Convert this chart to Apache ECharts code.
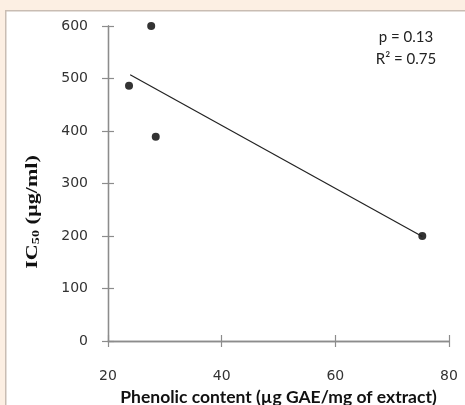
<!DOCTYPE html>
<html><head><meta charset="utf-8">
<script src="https://cdn.jsdelivr.net/npm/echarts@6/dist/echarts.min.js"></script>
<style>html,body{margin:0;padding:0;background:#fcefe3;}#c{width:465px;height:405px;}</style>
</head><body><div id="c"></div>
<script>
const phenolic = [23.7, 27.6, 28.4, 75.3];
const ic50 = [486, 600, 389, 200];
const trendX = [23.9, 75.3];
const trendY = [507, 199];
const xTicks = [20, 40, 60, 80];
const yTicks = [0, 100, 200, 300, 400, 500, 600];
const statLines = ['p = 0.13', 'R² = 0.75'];

const chart = echarts.init(document.getElementById('c'), null, {renderer: 'canvas'});
const axisLine = {show: true, onZero: false, lineStyle: {color: '#8c8c8c', width: 1.3}};
const tickStyle = {color: '#8c8c8c', width: 1.2};
chart.setOption({
  backgroundColor: '#fcefe3',
  animation: false,
  graphic: [
    {type: 'rect', left: 5, top: 10, z: -10, shape: {x: 0, y: 0, width: 470, height: 400},
     style: {fill: '#ffffff', stroke: '#c9bdb3', lineWidth: 1.5}},
    {type: 'text', x: 406, y: 37, z: 10,
     style: {text: statLines[0], align: 'center', verticalAlign: 'middle', font: '15px Lato, "Liberation Sans", sans-serif', fill: '#222'}},
    {type: 'text', x: 406, y: 59, z: 10,
     style: {text: statLines[1], align: 'center', verticalAlign: 'middle', font: '15px Lato, "Liberation Sans", sans-serif', fill: '#222'}},
    {type: 'text', x: 33, y: 212, rotation: Math.PI / 2, scaleX: 1.3, z: 10,
     style: {text: '{b|IC}{s|50}{b| (µg/ml)}', align: 'center', verticalAlign: 'middle', rich: {
       b: {font: 'bold 17px "Liberation Serif", "Times New Roman", serif', fill: '#111', verticalAlign: 'bottom'},
       s: {font: 'bold 11px "Liberation Serif", "Times New Roman", serif', fill: '#111', padding: [5, 0, 0, 0], verticalAlign: 'bottom'}
     }}}
  ],
  grid: {left: 108, right: 16, top: 26, bottom: 64, outerBoundsMode: 'none', containLabel: false},
  xAxis: [{
    type: 'value', min: xTicks[0], max: xTicks[xTicks.length - 1], interval: 20,
    axisLine, splitLine: {show: false},
    axisTick: {show: true, length: 6, lineStyle: tickStyle},
    axisLabel: {margin: 28, color: '#333', fontFamily: '"DejaVu Sans"', fontSize: 14},
    name: 'Phenolic content (µg GAE/mg of extract)', nameLocation: 'middle', nameGap: 47,
    nameTextStyle: {fontFamily: 'Lato, "Open Sans", sans-serif', fontWeight: 'bold', fontSize: 17.5, color: '#111'}
  }, {
    type: 'value', position: 'bottom', offset: 0, min: xTicks[0], max: xTicks[xTicks.length - 1], interval: 20,
    axisLine, splitLine: {show: false},
    axisTick: {show: true, inside: true, length: 6, lineStyle: tickStyle},
    axisLabel: {show: false}
  }],
  yAxis: [{
    type: 'value', min: yTicks[0], max: yTicks[yTicks.length - 1], interval: 100,
    axisLine, splitLine: {show: false},
    axisTick: {show: true, length: 6, lineStyle: tickStyle},
    axisLabel: {margin: 20, color: '#333', fontFamily: '"DejaVu Sans"', fontSize: 14}
  }, {
    type: 'value', position: 'left', offset: 0, min: yTicks[0], max: yTicks[yTicks.length - 1], interval: 100,
    axisLine, splitLine: {show: false},
    axisTick: {show: true, inside: true, length: 6, lineStyle: tickStyle},
    axisLabel: {show: false}
  }],
  series: [{
    type: 'line', xAxisIndex: 1, yAxisIndex: 1, data: trendX.map((x, i) => [x, trendY[i]]),
    symbol: 'none', lineStyle: {color: '#222', width: 1.2}, silent: true
  }, {
    type: 'scatter', data: phenolic.map((x, i) => [x, ic50[i]]),
    symbol: 'circle', symbolSize: 8, itemStyle: {color: '#000'}
  }]
});
</script></body></html>
